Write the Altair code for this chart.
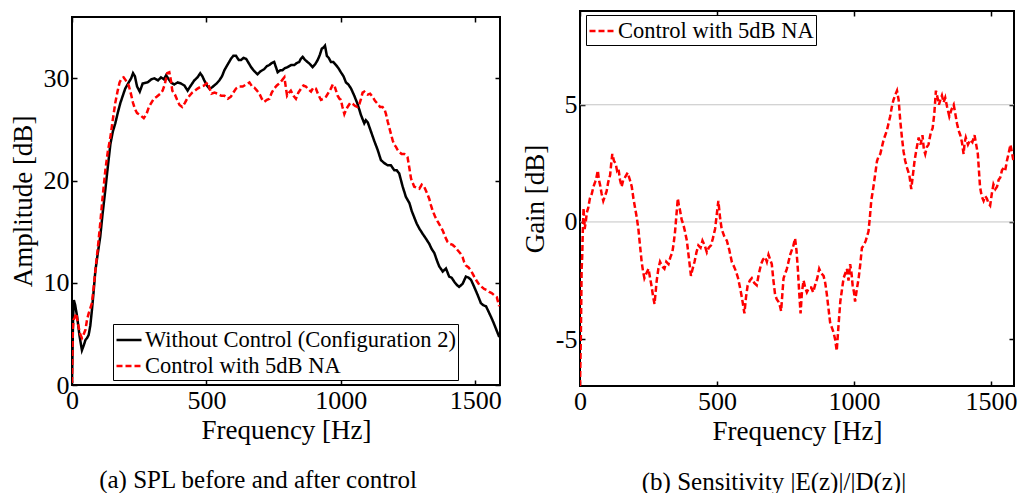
import altair as alt
import pandas as pd

FONT = "Liberation Serif"

series_names = ["Without Control (Configuration 2)", "Control with 5dB NA"]
captions = ["(a) SPL before and after control", "(b) Sensitivity |E(z)|/|D(z)|"]
x_ticks = [0, 500, 1000, 1500]
amp_ticks = [0, 10, 20, 30]
gain_ticks = [-5, 0, 5]
gain_grid = [0, 5]
amp_domain = [0, 36]
gain_domain = [-7, 9]
freq_domain_a = [0, 1592]
freq_domain_b = [0, 1584]

# (a) Without control
freq_nc = [0, 4, 7, 12, 19, 28, 37, 44, 50, 56, 62, 68, 74, 80, 87, 96, 105, 114, 124, 133, 143, 152, 161, 170, 180,
           189, 198, 211, 220, 227, 234, 242, 252, 263, 281, 295, 306, 320, 331, 342, 350, 360, 368, 380, 393, 405,
           418, 430, 442, 455, 467, 477, 485, 492, 502, 511, 520, 529, 538, 548, 558, 567, 580, 591, 600, 610, 620,
           629, 638, 648, 657, 666, 678, 690, 702, 715, 725, 734, 743, 752, 765, 775, 783, 792, 802, 815, 827, 836,
           845, 851, 858, 867, 876, 885, 895, 905, 914, 922, 929, 935, 941, 948, 955, 963, 972, 982, 991, 1000, 1010,
           1019, 1028, 1038, 1050, 1062, 1075, 1087, 1093, 1100, 1112, 1124, 1137, 1149, 1162, 1174, 1186, 1199, 1208,
           1217, 1230, 1242, 1255, 1264, 1273, 1282, 1292, 1304, 1317, 1329, 1338, 1348, 1357, 1366, 1379, 1391, 1403,
           1412, 1422, 1431, 1440, 1453, 1465, 1475, 1484, 1496, 1509, 1521, 1530, 1540, 1549, 1558, 1568, 1577, 1589]
amp_nc = [0.2, 6.5, 8.3, 7.8, 6.7, 4.8, 3.4, 3.9, 4.4, 4.6, 4.9, 5.8, 7.3, 9.0, 11.2, 12.9, 14.5, 16.8, 19.1, 21.3,
          23.6, 24.8, 25.6, 26.6, 27.6, 28.3, 29.0, 29.6, 30.0, 30.5, 30.2, 29.2, 28.7, 29.5, 29.6, 29.9, 30.0, 29.8,
          30.1, 29.9, 30.3, 29.9, 29.6, 29.4, 29.6, 29.5, 29.3, 28.8, 29.3, 29.8, 30.1, 30.5, 30.2, 29.8, 29.3, 29.0,
          29.1, 29.3, 29.5, 29.8, 30.2, 30.8, 31.4, 31.9, 32.2, 32.2, 31.8, 31.8, 32.0, 31.9, 31.5, 31.1, 30.7, 30.4,
          30.7, 30.9, 31.2, 31.3, 31.5, 31.6, 30.6, 30.8, 30.8, 31.0, 31.1, 31.3, 31.3, 31.5, 31.6, 31.9, 32.1, 31.8,
          31.6, 31.4, 31.1, 31.4, 31.8, 32.3, 32.9, 33.0, 33.2, 32.2, 32.0, 31.6, 31.6, 31.3, 31.0, 30.6, 30.2, 29.6,
          29.4, 29.0, 28.3, 27.5, 26.4, 25.6, 25.9, 25.7, 24.8, 23.9, 23.0, 22.0, 21.7, 21.5, 21.5, 21.0, 21.0, 20.7,
          19.4, 18.4, 17.8, 17.0, 16.4, 15.8, 15.3, 14.8, 14.3, 13.8, 13.3, 12.9, 12.2, 11.6, 11.1, 11.4, 10.6, 10.5,
          10.1, 9.8, 9.6, 9.9, 10.6, 10.5, 10.3, 9.6, 8.8, 8.0, 7.8, 7.7, 7.2, 6.7, 6.1, 5.5, 4.7]

# (a) Control with 5dB NA
freq_c = [0, 3, 6, 10, 16, 22, 30, 37, 44, 50, 56, 62, 68, 74, 80, 87, 96, 105, 114, 124, 133, 143, 152, 161, 170,
          177, 185, 192, 200, 211, 219, 227, 234, 242, 254, 267, 277, 286, 295, 304, 315, 329, 337, 345, 354, 362,
          368, 373, 383, 391, 400, 410, 420, 428, 437, 447, 458, 467, 480, 492, 505, 512, 519, 530, 542, 555, 567,
          580, 591, 600, 610, 622, 635, 648, 660, 670, 678, 688, 697, 706, 715, 725, 734, 743, 752, 762, 771, 781,
          790, 796, 800, 807, 814, 824, 833, 842, 852, 861, 870, 880, 889, 898, 907, 916, 926, 935, 945, 954, 963,
          970, 976, 982, 988, 995, 1000, 1006, 1013, 1019, 1025, 1035, 1044, 1053, 1062, 1069, 1075, 1081, 1087,
          1093, 1100, 1109, 1118, 1127, 1137, 1146, 1155, 1162, 1168, 1174, 1180, 1187, 1193, 1199, 1205, 1211, 1217,
          1226, 1236, 1242, 1248, 1255, 1261, 1267, 1273, 1282, 1292, 1301, 1310, 1320, 1329, 1335, 1341, 1350, 1360,
          1369, 1379, 1388, 1397, 1406, 1416, 1425, 1434, 1444, 1453, 1459, 1465, 1475, 1484, 1490, 1496, 1505, 1515,
          1524, 1533, 1542, 1552, 1561, 1570, 1580, 1589]
amp_c = [0.2, 5.5, 6.4, 6.6, 7.0, 6.0, 5.0, 4.6, 5.0, 5.4, 6.4, 7.0, 7.5, 8.0, 9.4, 11.2, 13.4, 15.8, 18.4, 21.0, 22.8,
         24.3, 26.0, 27.6, 28.8, 29.6, 30.0, 30.1, 29.8, 29.3, 28.5, 27.6, 27.0, 26.6, 26.4, 26.1, 26.5, 27.2, 27.6,
         28.0, 28.2, 28.5, 28.8, 29.4, 30.5, 30.6, 29.8, 28.8, 28.4, 27.9, 27.4, 27.2, 27.6, 28.0, 28.3, 28.6, 28.8,
         29.0, 29.2, 29.3, 29.6, 29.0, 28.5, 28.6, 28.5, 28.3, 28.3, 28.0, 28.2, 28.6, 29.0, 29.2, 29.2, 29.4, 29.6,
         29.2, 29.1, 28.8, 28.5, 28.0, 27.7, 27.9, 28.0, 28.6, 29.0, 29.3, 29.5, 29.8, 30.1, 29.0, 28.3, 28.6, 28.8,
         28.3, 28.0, 28.6, 29.0, 29.3, 29.2, 28.9, 28.7, 29.1, 29.0, 28.4, 27.9, 28.0, 28.2, 28.6, 29.0, 29.4, 29.3,
         28.8, 28.3, 28.0, 27.9, 27.2, 26.5, 26.9, 27.2, 27.6, 27.5, 27.3, 27.2, 27.5, 28.0, 28.6, 28.7, 28.5, 28.4,
         28.5, 28.2, 27.8, 27.5, 27.2, 27.2, 27.0, 26.5, 25.8, 25.2, 24.5, 23.9, 23.5, 23.3, 23.0, 22.8, 22.6, 22.6,
         22.5, 22.3, 21.2, 20.2, 19.8, 19.4, 19.3, 19.2, 19.6, 19.4, 18.8, 18.2, 17.6, 17.1, 16.5, 16.0, 15.6, 15.1,
         14.5, 14.0, 13.8, 13.7, 13.5, 13.2, 12.9, 12.5, 12.0, 11.7, 11.5, 11.2, 10.9, 10.6, 10.2, 9.8, 9.6, 9.4, 9.3,
         9.1, 9.0, 8.8, 8.6, 7.7]

# (b) Sensitivity gain
freq_g = [0, 3, 6, 8, 10, 13, 17, 21, 25, 30, 36, 43, 49, 55, 60, 65, 69, 73, 79, 85, 91, 97, 103, 110, 114, 118, 124,
          130, 135, 140, 146, 152, 158, 164, 169, 174, 182, 189, 195, 201, 207, 213, 219, 225, 230, 235, 242, 250,
          256, 262, 267, 272, 276, 280, 286, 292, 300, 308, 315, 323, 330, 337, 342, 347, 352, 357, 361, 365, 371,
          377, 383, 390, 397, 405, 411, 418, 425, 432, 440, 447, 455, 463, 470, 478, 485, 493, 499, 505, 511, 517,
          526, 536, 545, 554, 562, 569, 577, 584, 592, 600, 606, 612, 620, 627, 636, 645, 653, 661, 668, 676, 682,
          688, 694, 700, 706, 712, 718, 724, 730, 734, 739, 743, 749, 755, 761, 767, 773, 779, 785, 790, 795, 800,
          805, 810, 816, 822, 828, 836, 844, 851, 858, 866, 873, 881, 889, 895, 901, 907, 913, 919, 925, 931, 937,
          943, 950, 956, 962, 968, 974, 980, 986, 991, 995, 1000, 1004, 1010, 1017, 1023, 1029, 1036, 1043, 1048,
          1053, 1058, 1063, 1067, 1071, 1077, 1084, 1090, 1096, 1102, 1108, 1114, 1120, 1126, 1132, 1138, 1144, 1150,
          1157, 1163, 1169, 1175, 1181, 1187, 1194, 1202, 1209, 1215, 1221, 1228, 1236, 1243, 1250, 1255, 1260, 1266,
          1272, 1280, 1287, 1293, 1299, 1305, 1310, 1315, 1321, 1327, 1333, 1340, 1348, 1356, 1364, 1370, 1376, 1382,
          1388, 1394, 1400, 1404, 1408, 1416, 1424, 1432, 1440, 1446, 1452, 1456, 1460, 1466, 1473, 1479, 1485, 1491,
          1497, 1503, 1509, 1516, 1522, 1528, 1534, 1540, 1546, 1552, 1558, 1564, 1571, 1576, 1582]
gain_g = [-7.0, -5.0, -2.0, -1.5, -0.5, 0.6, -0.3, 0.0, 0.4, 0.6, 1.0, 1.2, 1.5, 1.7, 1.9, 2.2, 1.8, 1.6, 1.2, 0.9,
          1.1, 1.3, 1.7, 2.0, 2.5, 2.9, 2.6, 2.5, 2.2, 2.3, 1.8, 1.5, 1.8, 1.9, 2.0, 2.1, 1.8, 1.5, 1.0, 0.6, 0.2,
          -0.3, -1.0, -1.7, -2.1, -2.4, -2.2, -2.0, -2.4, -2.8, -3.2, -3.5, -3.0, -2.5, -2.0, -1.7, -1.9, -2.0, -1.7,
          -1.8, -1.5, -1.3, -0.9, -0.4, 0.3, 1.0, 0.7, 0.5, 0.1, -0.1, -0.4, -0.8, -1.5, -2.3, -2.0, -1.7, -1.3, -1.0,
          -1.1, -0.8, -1.0, -1.3, -1.1, -1.0, -0.7, -0.3, 0.3, 0.9, 0.2, -0.3, -0.6, -0.8, -1.2, -1.7, -1.9, -2.1,
          -2.4, -2.8, -3.3, -3.9, -3.2, -2.7, -2.5, -2.4, -2.6, -2.7, -2.2, -1.8, -1.6, -1.5, -1.7, -1.4, -1.6, -1.8,
          -2.5, -3.1, -3.3, -3.4, -3.6, -3.8, -3.0, -2.4, -2.2, -2.0, -1.7, -1.4, -1.2, -1.0, -0.7, -1.2, -2.0, -3.0,
          -3.9, -3.0, -2.5, -2.8, -3.0, -2.8, -2.8, -3.0, -2.7, -2.4, -2.0, -2.2, -2.3, -2.6, -3.1, -3.7, -4.3, -4.5,
          -4.7, -5.0, -5.5, -4.5, -3.4, -2.9, -2.4, -2.2, -2.0, -2.5, -1.8, -2.2, -2.7, -3.0, -3.4, -2.9, -2.4, -1.8,
          -1.1, -1.0, -0.8, -0.6, -0.4, 0.2, 0.9, 1.2, 1.5, 2.0, 2.6, 2.8, 2.9, 3.2, 3.5, 3.7, 3.9, 4.2, 4.5, 4.9,
          5.2, 5.4, 5.6, 5.2, 4.3, 3.6, 3.0, 2.6, 2.3, 2.0, 1.4, 2.0, 2.6, 3.1, 3.6, 3.3, 3.7, 3.1, 2.9, 3.2, 3.3,
          3.8, 4.0, 4.6, 5.6, 5.3, 5.0, 5.2, 5.4, 5.1, 5.3, 4.9, 4.5, 4.8, 5.0, 4.6, 4.2, 3.9, 3.7, 3.4, 2.9, 3.4,
          3.6, 3.3, 3.5, 3.4, 3.7, 3.3, 2.9, 2.2, 1.5, 1.1, 0.9, 1.1, 1.0, 0.8, 0.7, 1.2, 1.6, 1.4, 1.5, 1.8, 1.9,
          2.2, 2.3, 2.2, 2.6, 2.9, 3.3, 3.0, 2.6]

left_df = pd.concat([
    pd.DataFrame({"f": freq_nc, "v": amp_nc, "s": series_names[0]}),
    pd.DataFrame({"f": freq_c, "v": amp_c, "s": series_names[1]}),
], ignore_index=True)
right_df = pd.DataFrame({"f": freq_g, "v": gain_g, "s": series_names[1]})
grid_df = pd.DataFrame({"g": gain_grid})

TICK = dict(offset=-5, tickSize=5, domain=False, grid=False, tickColor="black", tickWidth=1.5)
LAB = dict(labelFont=FONT, labelFontSize=26, labelColor="black", labelFlush=False, labelOverlap=False,
           labelExpr="'' + datum.value")
TIT = dict(titleFont=FONT, titleFontSize=27, titleFontWeight="normal", titleColor="black")


def x_bottom(values):
    return alt.Axis(values=values, orient="bottom", labelPadding=2, title="Frequency [Hz]", titlePadding=4,
                    **TICK, **LAB, **TIT)


def x_top(values):
    return alt.Axis(values=values, orient="top", labels=False, title=None, **TICK)


def y_left(values, title):
    return alt.Axis(values=values, orient="left", labelPadding=3, title=title, titlePadding=6,
                    **TICK, **LAB, **TIT)


def y_right(values):
    return alt.Axis(values=values, orient="right", labels=False, title=None, **TICK)


def legend(x, y):
    return alt.Legend(title=None, orient="none", legendX=x, legendY=y, symbolType="stroke", symbolSize=625,
                      symbolStrokeWidth=2.5, labelFont=FONT, labelFontSize=22.5, labelColor="black",
                      labelLimit=600, strokeColor="black", fillColor="white", padding=2, rowPadding=0,
                      labelOffset=2)


# ---------- panel (a) ----------
leg_a = legend(41, 313)
lines_a = alt.Chart(left_df).mark_line(strokeWidth=2.5, clip=True).encode(
    x=alt.X("f:Q", scale=alt.Scale(domain=freq_domain_a, nice=False, zero=False), axis=x_bottom(x_ticks)),
    y=alt.Y("v:Q", scale=alt.Scale(domain=amp_domain, nice=False), axis=y_left(amp_ticks, "Amplitude [dB]")),
    color=alt.Color("s:N", scale=alt.Scale(domain=series_names, range=["black", "red"]), legend=leg_a),
    strokeDash=alt.StrokeDash("s:N", scale=alt.Scale(domain=series_names, range=[[1, 0], [6, 3]]), legend=leg_a),
)
frame_a = alt.Chart(left_df).mark_line(opacity=0).encode(
    x=alt.X("f:Q", axis=x_top(x_ticks)),
    y=alt.Y("v:Q", axis=y_right(amp_ticks)),
)
cap_a = alt.Chart(pd.DataFrame({"t": [captions[0]]})).mark_text(
    font=FONT, fontSize=25, color="black", align="center", baseline="alphabetic"
).encode(text="t:N", x=alt.value(186), y=alt.value(471))

panel_a = alt.layer(lines_a, frame_a, cap_a).resolve_axis(x="independent", y="independent").properties(
    width=428, height=368
)

spacer = alt.Chart(pd.DataFrame({"a": [0]})).mark_rect(opacity=0).encode(
    x=alt.value(0), x2=alt.value(1), y=alt.value(0), y2=alt.value(1)
).properties(width=428, height=1, view=alt.ViewBackground(stroke="transparent"))

left_col = alt.vconcat(spacer, panel_a, spacing=2)

# ---------- panel (b) ----------
leg_b = legend(6, 4)
grid_b = alt.Chart(grid_df).mark_rule(color="#c4c4c4", strokeWidth=1).encode(
    y=alt.Y("g:Q", axis=None)
)
lines_b = alt.Chart(right_df).mark_line(strokeWidth=2.5, clip=True).encode(
    x=alt.X("f:Q", scale=alt.Scale(domain=freq_domain_b, nice=False, zero=False), axis=x_bottom(x_ticks)),
    y=alt.Y("v:Q", scale=alt.Scale(domain=gain_domain, nice=False), axis=y_left(gain_ticks, "Gain [dB]")),
    color=alt.Color("s:N", scale=alt.Scale(domain=[series_names[1]], range=["red"]), legend=leg_b),
    strokeDash=alt.StrokeDash("s:N", scale=alt.Scale(domain=[series_names[1]], range=[[6, 3]]), legend=leg_b),
)
frame_b = alt.Chart(right_df).mark_line(opacity=0).encode(
    x=alt.X("f:Q", axis=x_top(x_ticks)),
    y=alt.Y("v:Q", axis=y_right(gain_ticks)),
)
cap_b = alt.Chart(pd.DataFrame({"t": [captions[1]]})).mark_text(
    font=FONT, fontSize=25, color="black", align="center", baseline="alphabetic"
).encode(text="t:N", x=alt.value(194), y=alt.value(479))

panel_b = alt.layer(grid_b, lines_b, frame_b, cap_b).resolve_axis(x="independent", y="independent").properties(
    width=434, height=375
)

chart = alt.hconcat(left_col, panel_b, spacing=17).resolve_scale(
    color="independent", strokeDash="independent", x="independent", y="independent"
).resolve_legend(color="independent", strokeDash="independent").properties(
    padding={"left": 8, "top": 9, "right": 0, "bottom": 0}
).configure(background="white", font=FONT).configure_view(stroke="black", strokeWidth=2)

chart.save("out.html", embed_options={"renderer": "svg", "actions": False})
